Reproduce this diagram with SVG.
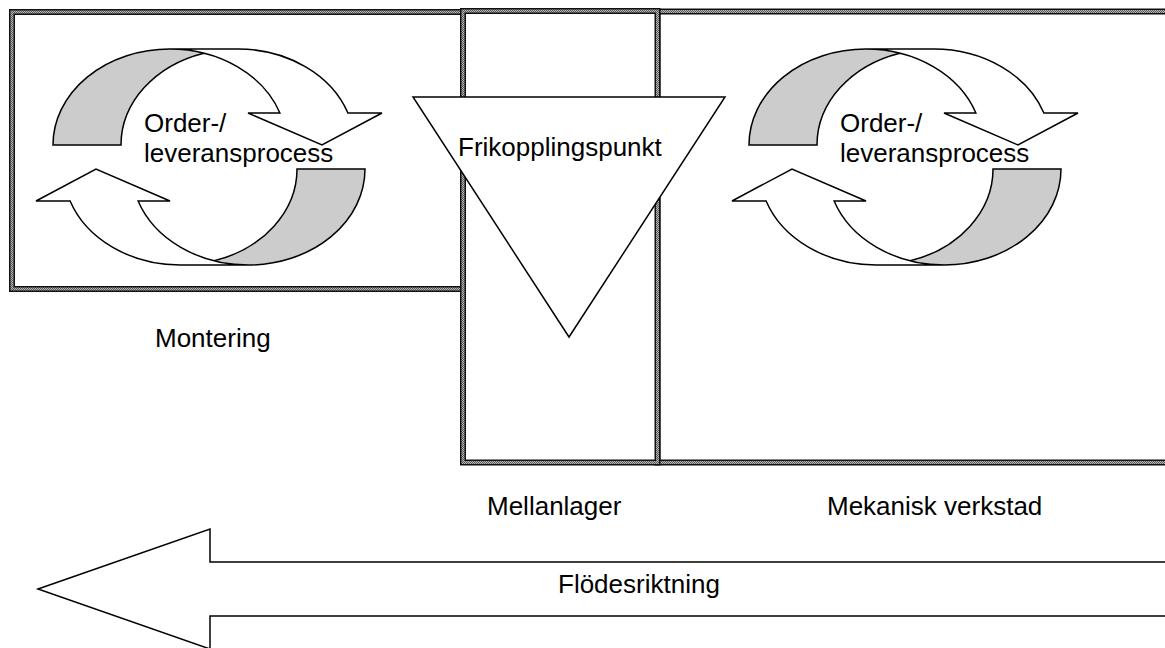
<svg xmlns="http://www.w3.org/2000/svg" width="1165" height="648" viewBox="0 0 1165 648">
  <defs>
    <!-- fine grey checker used inside the double frame lines -->
    <pattern id="hatch" width="2" height="2" patternUnits="userSpaceOnUse">
      <rect width="2" height="2" fill="#b4b4b4"/>
      <rect width="1" height="1" fill="#5a5a5a"/>
      <rect x="1" y="1" width="1" height="1" fill="#5a5a5a"/>
    </pattern>
    <!-- one curved arrow band: white front, grey back, outline -->
    <g id="curved">
      <path class="front" d="M322,145 L248,113 L279.9,113 A116.8,96 0 0 0 169.8,49 L237.8,49 A116.8,96 0 0 1 347.9,113 L382,113 Z"/>
      <path class="back" d="M203.8,53.2 A116.8,96 0 0 0 121,145 L53,145 A116.8,96 0 0 1 203.8,53.2 Z"/>
      <path class="edge" d="M203.8,53.2 A116.8,96 0 0 0 121,145 L53,145 A116.8,96 0 0 1 169.8,49 L237.8,49 A116.8,96 0 0 1 347.9,113 L382,113 L322,145 L248,113 L279.9,113 A116.8,96 0 0 0 169.8,49"/>
    </g>
    <g id="cycle">
      <use href="#curved"/>
      <use href="#curved" transform="rotate(180 209 157)"/>
    </g>
  </defs>
  <style>
    .frame-outer { fill: none; stroke: #111; stroke-width: 6; }
    .frame-inner { fill: none; stroke: url(#hatch); stroke-width: 3; }
    .front { fill: #fff; stroke: none; }
    .back { fill: #cccccc; stroke: none; }
    .edge { fill: none; stroke: #000; stroke-width: 1.5; stroke-linejoin: miter; }
    .shape { fill: #fff; stroke: #000; stroke-width: 1.5; }
    .label { font-family: "Liberation Sans", Arial, sans-serif; font-size: 26px; fill: #000; }
  </style>

  <rect width="1165" height="648" fill="#fff"/>

  <!-- Montering area -->
  <g id="montering">
    <rect x="12" y="12" width="451" height="277" fill="#fff"/>
    <rect class="frame-outer" x="12" y="12" width="451" height="277"/>
    <rect class="frame-inner" x="12" y="12" width="451" height="277"/>
    <text class="label" x="155" y="347">Montering</text>
  </g>

  <!-- Mekanisk verkstad area -->
  <g id="mekanisk-verkstad">
    <rect class="frame-outer" x="657.5" y="11.5" width="520" height="451"/>
    <rect class="frame-inner" x="657.5" y="11.5" width="520" height="451"/>
    <text class="label" x="827" y="515">Mekanisk verkstad</text>
  </g>

  <!-- Mellanlager column -->
  <g id="mellanlager">
    <rect x="463" y="11" width="194.5" height="451.5" fill="#fff"/>
    <rect class="frame-outer" x="463" y="11" width="194.5" height="451.5"/>
    <rect class="frame-inner" x="463" y="11" width="194.5" height="451.5"/>
    <text class="label" x="487" y="515">Mellanlager</text>
  </g>

  <!-- order / delivery cycles -->
  <g id="cycle-montering">
    <use href="#cycle"/>
    <text class="label" x="144" y="132">Order-/</text>
    <text class="label" x="144" y="162">leveransprocess</text>
  </g>
  <g id="cycle-verkstad">
    <use href="#cycle" transform="translate(696 0)"/>
    <text class="label" x="840" y="132">Order-/</text>
    <text class="label" x="840" y="162">leveransprocess</text>
  </g>

  <!-- decoupling point -->
  <g id="frikopplingspunkt">
    <polygon class="shape" points="413,97 725,97 569,337"/>
    <text class="label" x="458" y="156">Frikopplingspunkt</text>
  </g>

  <!-- flow direction -->
  <g id="connectors">
    <polygon class="shape" points="38,589 210,529 210,562 1172,562 1172,616 210,616 210,649"/>
    <text class="label" x="558" y="593">Flödesriktning</text>
  </g>
</svg>
